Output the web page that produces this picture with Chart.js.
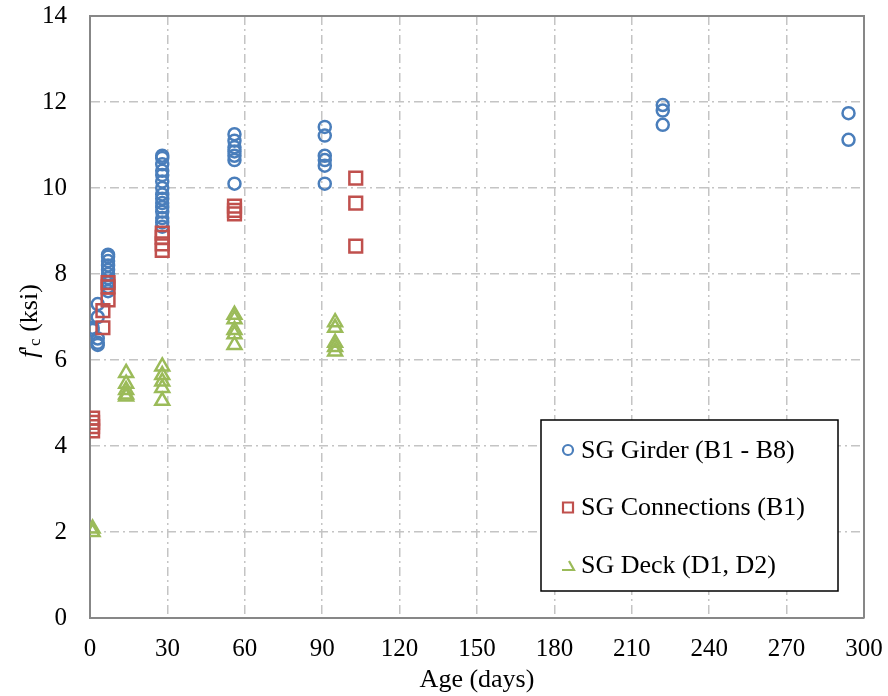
<!DOCTYPE html>
<html>
<head>
<meta charset="utf-8">
<script src="https://cdn.jsdelivr.net/npm/chart.js@4.4.1/dist/chart.umd.min.js"></script>
<style>
  body { margin: 0; background: #fff; }
  #wrap { width: 888px; height: 696px; }
</style>
</head>
<body>
<div id="wrap"><canvas id="strengthChart" width="888" height="696"></canvas></div>
<script>
// Concrete age at test (days) and measured compressive strength f'c (ksi)
const girderDays = [1, 1, 3, 3, 3, 3, 3, 7, 7, 7, 7, 7, 7, 7, 7, 7, 7,
    28, 28, 28, 28, 28, 28, 28, 28, 28, 28, 28, 28, 28, 28, 28,
    56, 56, 56, 56, 56, 56, 56, 91, 91, 91, 91, 91, 91, 222, 222, 222, 294, 294];
const girderFc = [6.75, 6.7, 7.3, 7.0, 6.5, 6.4, 6.35, 8.45, 8.4, 8.3, 8.2, 8.1, 8.0, 7.9, 7.8, 7.7, 7.6,
    10.75, 10.7, 10.55, 10.4, 10.3, 10.15, 10.0, 9.85, 9.75, 9.65, 9.55, 9.45, 9.3, 9.2, 9.1,
    11.25, 11.1, 10.95, 10.85, 10.75, 10.65, 10.1, 11.42, 11.22, 10.75, 10.65, 10.52, 10.1,
    11.93, 11.8, 11.47, 11.74, 11.12];

const connDays = [1, 1, 1, 1, 5, 5, 7, 7, 7, 28, 28, 28, 28, 56, 56, 56, 103, 103, 103];
const connFc = [4.65, 4.55, 4.45, 4.35, 6.75, 7.15, 7.4, 7.7, 7.8, 8.95, 8.85, 8.7, 8.55,
    9.58, 9.48, 9.4, 10.23, 9.65, 8.65];

const deckDays = [1, 1, 14, 14, 14, 14, 14, 28, 28, 28, 28, 28, 56, 56, 56, 56, 56, 95, 95, 95, 95, 95];
const deckFc = [2.08, 2.0, 5.7, 5.45, 5.3, 5.2, 5.15, 5.85, 5.65, 5.5, 5.35, 5.05,
    7.05, 6.95, 6.7, 6.6, 6.35, 6.88, 6.75, 6.4, 6.3, 6.2];

const seriesNames = ['SG Girder (B1 - B8)', 'SG Connections (B1)', 'SG Deck (D1, D2)'];
const xTickStep = 30;
const yTickStep = 2;

const FONT = '"Liberation Serif", "Times New Roman", serif';
const BLUE = '#4a7ebb';
const RED = '#c0504d';
const GREEN = '#9bbb59';
const GRID = '#c4c4c4';
const AXIS = '#878787';

function toPoints(xs, ys) {
    return xs.map((x, i) => ({ x: x, y: ys[i] }));
}

// keep the plot area fixed: no extra room for overhanging tick labels
function noOverhang(s) {
    s.paddingTop = 0;
    s.paddingBottom = 0;
    s.paddingLeft = 0;
    s.paddingRight = 0;
}

// Outer frame on the top and right of the plot area
const frame = {
    id: 'frame',
    beforeDatasetsDraw(chart) {
        const { ctx, chartArea: a } = chart;
        ctx.save();
        ctx.strokeStyle = AXIS;
        ctx.lineWidth = 2;
        ctx.beginPath();
        ctx.moveTo(a.left, a.top);
        ctx.lineTo(a.right, a.top);
        ctx.lineTo(a.right, a.bottom);
        ctx.stroke();
        ctx.restore();
    }
};

// y-axis title with italic f and subscript c
const yTitle = {
    id: 'yTitle',
    afterDraw(chart) {
        const { ctx, chartArea: a } = chart;
        const parts = [
            { t: 'f', font: 'italic 26px ' + FONT, dy: 0 },
            { t: '\'', font: '26px ' + FONT, dy: 0 },
            { t: 'c', font: '17px ' + FONT, dy: 6 },
            { t: ' (ksi)', font: '26px ' + FONT, dy: 0 }
        ];
        let total = 0;
        parts.forEach(p => { ctx.font = p.font; p.w = ctx.measureText(p.t).width; total += p.w; });
        ctx.save();
        ctx.translate(30, (a.top + a.bottom) / 2 + 4);
        ctx.rotate(-Math.PI / 2);
        ctx.fillStyle = '#000';
        ctx.textBaseline = 'middle';
        let x = -total / 2;
        parts.forEach(p => {
            ctx.font = p.font;
            ctx.fillText(p.t, x, p.dy);
            x += p.w;
        });
        ctx.restore();
    }
};

// Boxed legend inside the plot area
const boxLegend = {
    id: 'boxLegend',
    afterDraw(chart) {
        const { ctx } = chart;
        const left = 541, top = 420, w = 297, h = 171;
        ctx.save();
        ctx.fillStyle = '#fff';
        ctx.fillRect(left, top, w, h);
        ctx.strokeStyle = '#000';
        ctx.lineWidth = 1.5;
        ctx.strokeRect(left, top, w, h);
        ctx.font = '26px ' + FONT;
        ctx.textBaseline = 'middle';
        chart.data.datasets.forEach((ds, i) => {
            const y = top + 30 + i * 57.5;
            const mx = left + 27;
            ctx.strokeStyle = ds.borderColor;
            ctx.lineWidth = 2.2;
            ctx.beginPath();
            if (ds.pointStyle === 'circle') {
                ctx.arc(mx, y, 5, 0, Math.PI * 2);
            } else if (ds.pointStyle === 'rect') {
                ctx.rect(mx - 5, y - 5, 10, 10);
            } else {
                // the deck marker shows only its right and bottom edges
                ctx.moveTo(mx + 1, y - 4);
                ctx.lineTo(mx + 6, y + 5);
                ctx.lineTo(mx - 6, y + 5);
            }
            ctx.stroke();
            ctx.fillStyle = '#000';
            ctx.fillText(seriesNames[i], left + 40, y + 1);
        });
        ctx.restore();
    }
};

new Chart(document.getElementById('strengthChart'), {
    type: 'scatter',
    data: {
        datasets: [{
            label: seriesNames[0],
            data: toPoints(girderDays, girderFc),
            pointStyle: 'circle',
            pointRadius: 6,
            borderWidth: 2.5,
            borderColor: BLUE,
            backgroundColor: 'rgba(0,0,0,0)',
            order: 3
        }, {
            label: seriesNames[1],
            data: toPoints(connDays, connFc),
            pointStyle: 'rect',
            pointRadius: 9,
            borderWidth: 2.5,
            borderColor: RED,
            backgroundColor: 'rgba(0,0,0,0)',
            order: 2
        }, {
            label: seriesNames[2],
            data: toPoints(deckDays, deckFc),
            pointStyle: 'triangle',
            pointRadius: 8,
            borderWidth: 2.5,
            borderColor: GREEN,
            backgroundColor: 'rgba(0,0,0,0)',
            order: 1
        }]
    },
    options: {
        responsive: false,
        animation: false,
        layout: { padding: { top: 16, right: 24, left: 0, bottom: 0 } },
        plugins: {
            legend: { display: false },
            tooltip: { enabled: false }
        },
        scales: {
            x: {
                type: 'linear',
                min: 0,
                max: 300,
                afterFit: s => { s.height = 78; noOverhang(s); },
                ticks: { stepSize: xTickStep, padding: 16, color: '#000', font: { family: FONT, size: 25 } },
                grid: { color: GRID, lineWidth: 1.5, drawTicks: false },
                border: { color: AXIS, width: 2, dash: [9, 4, 2, 4] },
                title: { display: true, text: 'Age (days)', color: '#000', padding: { top: 0, bottom: 0 }, font: { family: FONT, size: 26 } }
            },
            y: {
                min: 0,
                max: 14,
                afterFit: s => { s.width = 90; noOverhang(s); },
                ticks: { stepSize: yTickStep, padding: 23, color: '#000', font: { family: FONT, size: 25 } },
                grid: { color: GRID, lineWidth: 1.5, drawTicks: false },
                border: { color: AXIS, width: 2, dash: [9, 4, 2, 4] }
            }
        }
    },
    plugins: [frame, yTitle, boxLegend]
});
</script>
</body>
</html>
